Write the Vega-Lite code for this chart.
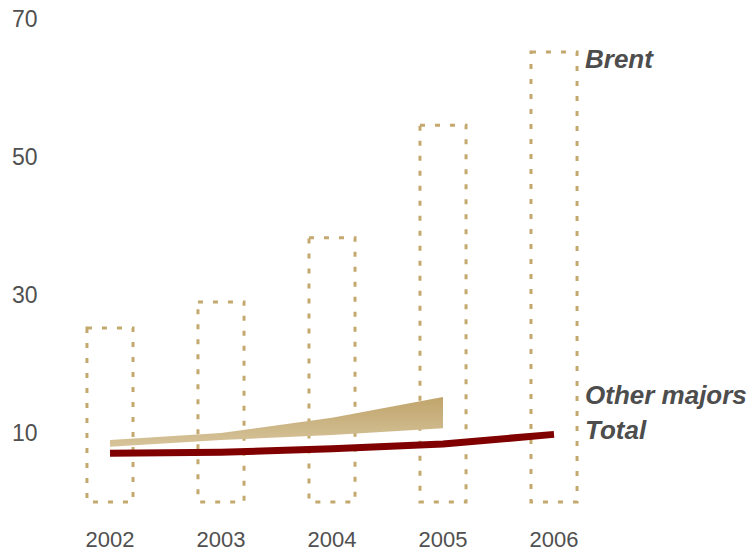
{
  "$schema": "https://vega.github.io/schema/vega-lite/v6.json",
  "autosize": {"type": "none"},
  "width": 574,
  "height": 483,
  "padding": {"left": 45, "top": 19, "right": 131, "bottom": 50},
  "background": "white",
  "config": {
    "view": {"stroke": null},
    "font": "Liberation Sans"
  },
  "datasets": {
    "main": [
      {"year": "2002", "brent": 25.2, "total": 7.05, "om_low": 8.0, "om_high": 9.0},
      {"year": "2003", "brent": 29.0, "total": 7.2, "om_low": 9.0, "om_high": 10.0},
      {"year": "2004", "brent": 38.3, "total": 7.7, "om_low": 9.7, "om_high": 12.2},
      {"year": "2005", "brent": 54.6, "total": 8.4, "om_low": 10.7, "om_high": 15.2},
      {"year": "2006", "brent": 65.2, "total": 9.8, "om_low": null, "om_high": null}
    ],
    "labels": [
      {"label": "Brent", "year": "2006", "value": 64.1},
      {"label": "Other majors", "year": "2006", "value": 15.4},
      {"label": "Total", "year": "2006", "value": 10.3}
    ]
  },
  "data": {"name": "main"},
  "encoding": {
    "x": {
      "field": "year",
      "type": "ordinal",
      "scale": {"paddingInner": 0.585, "paddingOuter": 0.378},
      "axis": {
        "title": null,
        "domain": false,
        "ticks": false,
        "tickSize": 0,
        "labelAngle": 0,
        "labelPadding": 27,
        "labelFontSize": 22,
        "labelColor": "#505050",
        "grid": false
      }
    }
  },
  "layer": [
    {
      "mark": {
        "type": "bar",
        "fill": null,
        "stroke": "#c4a96f",
        "strokeWidth": 3,
        "strokeDash": [5, 10]
      },
      "encoding": {
        "y": {
          "field": "brent",
          "type": "quantitative",
          "scale": {"domain": [0, 70], "nice": false},
          "axis": {
            "title": null,
            "domain": false,
            "ticks": false,
            "tickSize": 0,
            "grid": false,
            "values": [10, 30, 50, 70],
            "labelPadding": 8,
            "labelFontSize": 23,
            "labelColor": "#505050"
          }
        }
      }
    },
    {
      "mark": {
        "type": "area",
        "color": {
          "gradient": "linear",
          "x1": 0, "y1": 0, "x2": 0, "y2": 1,
          "stops": [
            {"offset": 0, "color": "#c0a46b"},
            {"offset": 1, "color": "#d6c49b"}
          ]
        }
      },
      "encoding": {
        "y": {"field": "om_high", "type": "quantitative"},
        "y2": {"field": "om_low"}
      }
    },
    {
      "mark": {"type": "line", "color": "#800000", "strokeWidth": 7},
      "encoding": {
        "y": {"field": "total", "type": "quantitative"}
      }
    },
    {
      "data": {"name": "labels"},
      "mark": {
        "type": "text",
        "align": "left",
        "baseline": "middle",
        "dx": 31,
        "fontSize": 26,
        "fontWeight": "bold",
        "fontStyle": "italic",
        "color": "#4d4d4d"
      },
      "encoding": {
        "y": {"field": "value", "type": "quantitative"},
        "text": {"field": "label"}
      }
    }
  ]
}
